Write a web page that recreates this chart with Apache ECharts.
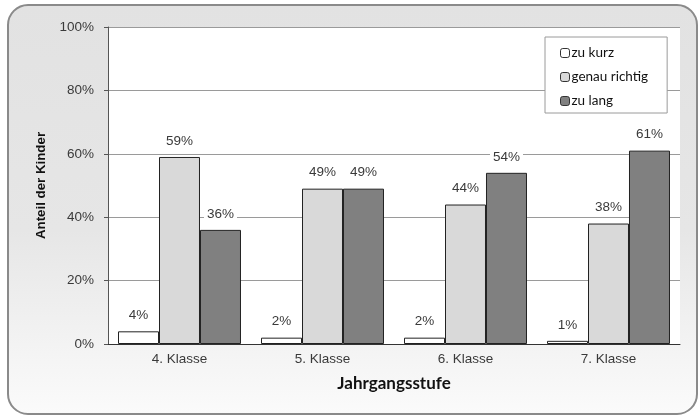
<!DOCTYPE html>
<html>
<head>
<meta charset="utf-8">
<script src="https://cdn.jsdelivr.net/npm/echarts@6/dist/echarts.min.js"></script>
<style>
  html, body { margin: 0; padding: 0; background: #ffffff; }
  #chart { width: 699px; height: 417px; }
</style>
</head>
<body>
<div id="chart"></div>
<script>
// Schuljahre (Kategorien)
const categories = ['4. Klasse', '5. Klasse', '6. Klasse', '7. Klasse'];
// Antworten in Prozent je Jahrgangsstufe
const zuKurz = [4, 2, 2, 1];
const genauRichtig = [59, 49, 44, 38];
const zuLang = [36, 49, 54, 61];
const seriesNames = ['zu kurz', 'genau richtig', 'zu lang'];
const yTicks = [0, 20, 40, 60, 80, 100];

const chart = echarts.init(document.getElementById('chart'), null, { renderer: 'canvas' });

const arial = 'Liberation Sans, Arial, sans-serif';

const valueLabel = {
  show: true,
  position: 'top',
  distance: 7,
  formatter: p => p.value + '%',
  fontFamily: arial,
  fontSize: 13.5,
  color: '#3a3a3a',
  backgroundColor: '#ffffff',
  padding: [1, 3],
  lineHeight: 16
};

function barSeries(name, data, color) {
  return {
    name: name,
    type: 'bar',
    data: data,
    barGap: '0%',
    barCategoryGap: '14%',
    itemStyle: { color: color, borderColor: '#222222', borderWidth: 1 },
    label: valueLabel,
    emphasis: { disabled: true }
  };
}

chart.setOption({
  animation: false,
  graphic: [{
    type: 'rect',
    z: -10,
    shape: { x: 8, y: 5, width: 689, height: 409, r: 20 },
    style: {
      fill: new echarts.graphic.LinearGradient(0, 0, 0, 1, [
        { offset: 0, color: '#e2e2e2' },
        { offset: 0.55, color: '#e6e6e6' },
        { offset: 1, color: '#fbfbfb' }
      ]),
      stroke: '#8a8a8a',
      lineWidth: 2
    }
  }],
  grid: {
    left: 108, right: 19, top: 27, bottom: 73,
    show: true, backgroundColor: '#ffffff', borderWidth: 0,
    containLabel: false
  },
  legend: {
    data: seriesNames,
    orient: 'vertical',
    left: 545, top: 37,
    backgroundColor: '#ffffff',
    borderColor: '#9a9a9a',
    borderWidth: 1,
    padding: [8, 19, 4, 15],
    itemWidth: 9, itemHeight: 9,
    itemGap: 8,
    itemStyle: { borderColor: '#333333', borderWidth: 1 },
    textStyle: { fontFamily: 'Lato, sans-serif', fontSize: 13.5, color: '#111111', lineHeight: 16, padding: [0, 0, 0, -3] },
    selectedMode: false
  },
  xAxis: {
    type: 'category',
    data: categories,
    name: 'Jahrgangsstufe',
    nameLocation: 'middle',
    nameGap: 31,
    nameTextStyle: { fontFamily: 'Lato, sans-serif', fontWeight: 'bold', fontSize: 17, color: '#111111' },
    axisLine: { lineStyle: { color: '#333333', width: 1 } },
    axisTick: { show: false },
    axisLabel: { margin: 8, fontFamily: arial, fontSize: 13.5, color: '#3a3a3a' }
  },
  yAxis: {
    type: 'value',
    min: yTicks[0], max: yTicks[yTicks.length - 1], interval: 20,
    name: 'Anteil der Kinder',
    nameLocation: 'middle',
    nameGap: 60,
    nameTextStyle: { fontFamily: arial, fontWeight: 'bold', fontSize: 13.3, color: '#111111' },
    axisLine: { show: true, lineStyle: { color: '#555555', width: 1 } },
    axisTick: { show: true, length: 4, lineStyle: { color: '#555555' } },
    axisLabel: {
      margin: 14,
      formatter: v => v + '%',
      fontFamily: arial, fontSize: 13.5, color: '#3a3a3a'
    },
    splitLine: { lineStyle: { color: '#9a9a9a', width: 1 } }
  },
  series: [
    barSeries(seriesNames[0], zuKurz, '#ffffff'),
    barSeries(seriesNames[1], genauRichtig, '#d9d9d9'),
    barSeries(seriesNames[2], zuLang, '#808080')
  ]
});
</script>
</body>
</html>
